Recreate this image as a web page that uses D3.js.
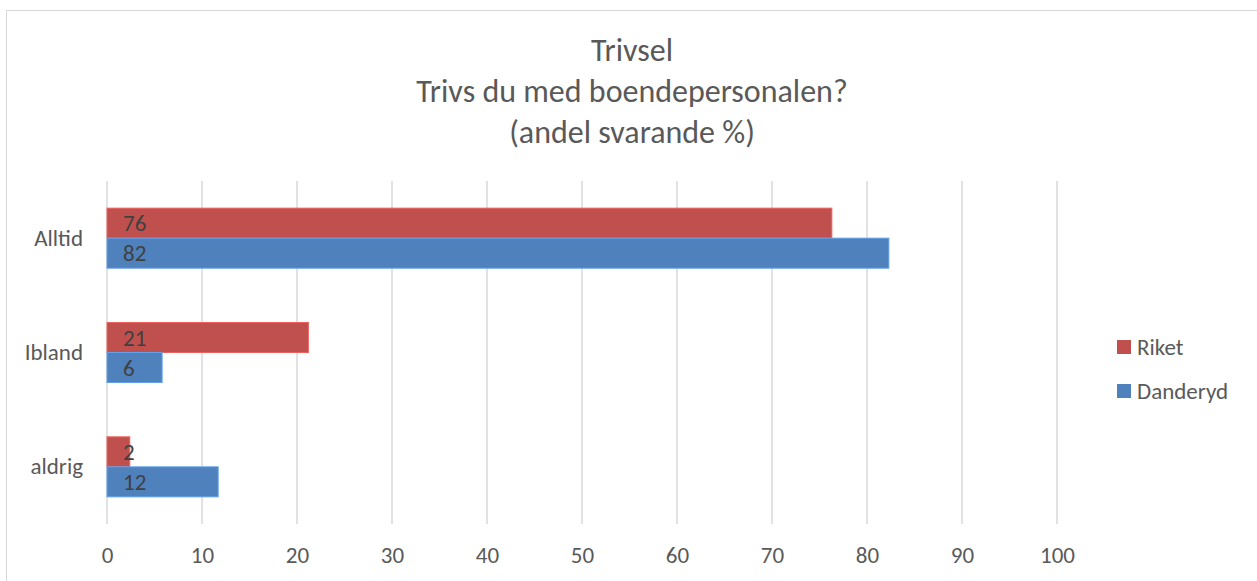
<!DOCTYPE html>
<meta charset="utf-8">
<head>
<title>Trivsel</title>
<style>
body { margin: 0; background: #fff; }
svg text { font-family: Carlito, Calibri, "Open Sans", sans-serif; fill: #595959; }
.grid line { stroke: #d9d9d9; stroke-width: 1.5; }
.label { fill: #404040; }
</style>
</head>
<body>
<div id="chart"></div>
<script src="https://d3js.org/d3.v7.min.js"></script>
<script>
var categories = ["Alltid", "Ibland", "aldrig"],
    seriesNames = ["Riket", "Danderyd"],
    riket = [76.3, 21.2, 2.4],
    danderyd = [82.3, 5.8, 11.7],
    ticks = [0, 10, 20, 30, 40, 50, 60, 70, 80, 90, 100],
    titleLines = ["Trivsel", "Trivs du med boendepersonalen?", "(andel svarande %)"];

var colors = ["#C0504D", "#4F81BD"];
var series = [riket, danderyd];

var width = 1257,
    height = 581;

var svg = d3.select("#chart").append("svg")
    .attr("width", width)
    .attr("height", height);

// chart border (only top/left visible in the crop)
svg.append("rect")
    .attr("x", 6.5).attr("y", 10.5)
    .attr("width", width + 10).attr("height", height + 10)
    .attr("fill", "none")
    .attr("stroke", "#d9d9d9")
    .attr("stroke-width", 1);

var title = svg.append("g").attr("class", "title");
title.selectAll("text")
    .data(titleLines)
    .enter().append("text")
    .attr("x", 632)
    .attr("y", function(d, i) { return 61 + i * 41; })
    .attr("text-anchor", "middle")
    .style("font-size", "32px")
    .text(function(d) { return d; });

var x = d3.scaleLinear()
    .domain([0, 100])
    .range([107, 1057]);

var y = d3.scaleBand()
    .domain(categories)
    .range([181, 524])
    .paddingInner(0.475)
    .paddingOuter(0.2375);

var sub = d3.scaleBand()
    .domain(seriesNames)
    .range([0, y.bandwidth()]);

// gridlines
svg.append("g")
    .attr("class", "grid")
    .selectAll("line")
    .data(ticks)
    .enter().append("line")
    .attr("x1", function(d) { return x(d); })
    .attr("x2", function(d) { return x(d); })
    .attr("y1", 181)
    .attr("y2", 524);

// x axis tick labels
var xAxis = d3.axisBottom(x).tickValues(ticks).tickSize(0).tickPadding(0);
var xg = svg.append("g")
    .attr("transform", "translate(0,563)")
    .call(xAxis);
xg.select(".domain").remove();
xg.selectAll("text")
    .attr("dy", 0)
    .attr("y", 0)
    .style("font-size", "23px")
    .style("font-family", null);

// category labels
var yAxis = d3.axisLeft(y).tickSize(0).tickPadding(24);
var yg = svg.append("g")
    .attr("transform", "translate(107,0)")
    .call(yAxis);
yg.select(".domain").remove();
yg.selectAll("text")
    .style("font-size", "23px")
    .style("font-family", null);

// bars
series.forEach(function(vals, si) {
    var g = svg.append("g").attr("class", "series-" + si);
    g.selectAll("rect")
        .data(vals)
        .enter().append("rect")
        .attr("x", x(0))
        .attr("y", function(d, i) { return y(categories[i]) + sub(seriesNames[si]); })
        .attr("width", function(d) { return x(d) - x(0); })
        .attr("height", sub.bandwidth())
        .attr("fill", colors[si])
        .attr("stroke", d3.color(colors[si]).brighter(0.6))
        .attr("stroke-width", 1);
    g.selectAll("text")
        .data(vals)
        .enter().append("text")
        .attr("class", "label")
        .attr("x", x(0) + 16)
        .attr("y", function(d, i) { return y(categories[i]) + sub(seriesNames[si]) + sub.bandwidth() / 2; })
        .attr("dy", "0.35em")
        .style("font-size", "23px")
        .text(function(d) { return Math.round(d); });
});

// legend
var legend = svg.append("g").selectAll("g")
    .data(seriesNames)
    .enter().append("g")
    .attr("transform", function(d, i) { return "translate(1117," + (347 + i * 44) + ")"; });
legend.append("rect")
    .attr("x", 0).attr("y", -7)
    .attr("width", 14).attr("height", 14)
    .attr("fill", function(d, i) { return colors[i]; });
legend.append("text")
    .attr("x", 20)
    .attr("dy", "0.35em")
    .style("font-size", "23px")
    .text(function(d) { return d; });
</script>
</body>
